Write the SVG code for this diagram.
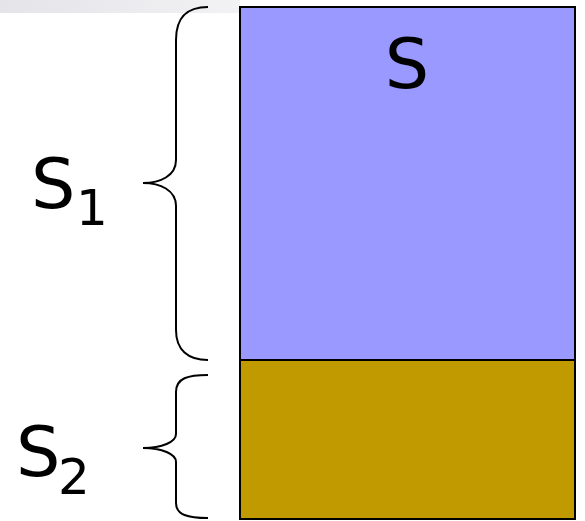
<svg xmlns="http://www.w3.org/2000/svg" width="585" height="521" viewBox="0 0 585 521">
<defs>
<linearGradient id="bar" x1="0" y1="0" x2="1" y2="0">
<stop offset="0" stop-color="#e4e4e9"/>
<stop offset="1" stop-color="#f2f2f4"/>
</linearGradient>
</defs>
<style>
.lbl{font-family:"DejaVu Sans",Verdana,sans-serif;fill:#000}
.brace{fill:none;stroke:#000;stroke-width:2}
.part{stroke:#000;stroke-width:2}
</style>
<rect x="0" y="0" width="240" height="13" fill="url(#bar)"/>
<g id="S1-part"><rect class="part" x="240" y="7" width="335" height="353" fill="#9999ff"/></g>
<g id="S2-part"><rect class="part" x="240" y="360" width="335" height="159" fill="#c19a00"/></g>
<g id="connectors">
<path class="brace" d="M208,7 C188,7 176,16 176,40 L176,160 C176,176 160,183 143,183 C160,183 176,190 176,206 L176,330 C176,350 188,360 208,360"/>
<path class="brace" d="M208,375 C188,375 176,378 176,392 L176,434 C176,442 162,448 143,448 C162,448 176,454 176,462 L176,503 C176,515 188,518 208,518"/>
</g>
<g id="label-S"><text class="lbl" x="407" y="88" font-size="70" text-anchor="middle">S</text></g>
<g id="label-S1"><text class="lbl" x="31" y="208" font-size="70">S</text><text class="lbl" x="76" y="225" font-size="50">1</text></g>
<g id="label-S2"><text class="lbl" x="16" y="476" font-size="70">S</text><text class="lbl" x="58" y="494" font-size="50">2</text></g>
</svg>
